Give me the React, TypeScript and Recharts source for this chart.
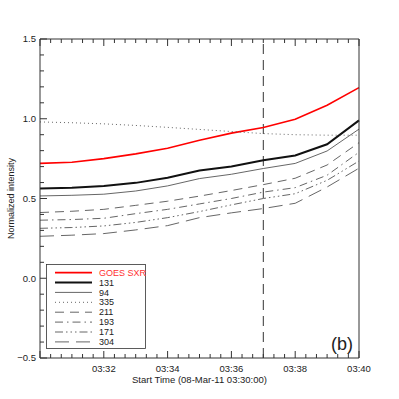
import { LineChart, Line, XAxis, YAxis } from 'recharts';

// minutes after 03:30:00 on 08-Mar-11
const minutes = [0, 1, 2, 3, 4, 5, 6, 7, 8, 9, 10];

const goesSxr = [0.72, 0.727, 0.75, 0.78, 0.815, 0.865, 0.91, 0.945, 0.997, 1.085, 1.195];
const aia131 = [0.562, 0.567, 0.578, 0.598, 0.63, 0.675, 0.7, 0.74, 0.77, 0.84, 0.99];
const aia94 = [0.516, 0.52, 0.527, 0.547, 0.579, 0.625, 0.652, 0.688, 0.72, 0.798, 0.935];
const aia335 = [0.98, 0.975, 0.968, 0.958, 0.946, 0.933, 0.92, 0.907, 0.9, 0.897, 0.897];
const aia211 = [0.412, 0.42, 0.432, 0.457, 0.483, 0.515, 0.55, 0.587, 0.627, 0.71, 0.85];
const aia193 = [0.364, 0.368, 0.376, 0.405, 0.432, 0.466, 0.5, 0.54, 0.568, 0.646, 0.79];
const aia171 = [0.313, 0.318, 0.328, 0.35, 0.38, 0.418, 0.46, 0.5, 0.53, 0.614, 0.735];
const aia304 = [0.263, 0.27, 0.28, 0.303, 0.33, 0.38, 0.41, 0.437, 0.47, 0.572, 0.69];

const xMajorTicks = [0, 2, 4, 6, 8, 10];
const xTickLabels = ['', '03:32', '03:34', '03:36', '03:38', '03:40'];
const leftTicks = [-0.5, -0.4, -0.3, -0.2, -0.1, 0, 0.1, 0.2, 0.3, 0.4, 0.5, 0.6, 0.7, 0.8, 0.9, 1.0, 1.1, 1.2, 1.3, 1.4, 1.5];
const rightTicks = [3e-7, 4e-7, 5e-7, 6e-7, 7e-7, 8e-7, 9e-7, 1e-6, 2e-6, 3e-6, 4e-6, 5e-6];

// vertical marker at 03:37 spanning the full left-axis range
const flareMarker = [
  { t: 7, v: -0.5 },
  { t: 7, v: 1.5 },
];

const AXIS = '#333';
const TXT = '#222';
const FONT = '"Liberation Sans", Arial, sans-serif';

const SERIES = [
  { key: 'goes', name: 'GOES SXR', values: goesSxr, color: '#ff0000', width: 1.6, dash: undefined as string | undefined },
  { key: 'a131', name: '131', values: aia131, color: '#111', width: 2, dash: undefined },
  { key: 'a94', name: '94', values: aia94, color: '#555', width: 0.9, dash: undefined },
  { key: 'a335', name: '335', values: aia335, color: '#555', width: 0.9, dash: '1 3' },
  { key: 'a211', name: '211', values: aia211, color: '#555', width: 0.9, dash: '9 6' },
  { key: 'a193', name: '193', values: aia193, color: '#555', width: 0.9, dash: '8 4 1.5 4' },
  { key: 'a171', name: '171', values: aia171, color: '#555', width: 0.9, dash: '8 3 1.5 3 1.5 3 1.5 3' },
  { key: 'a304', name: '304', values: aia304, color: '#555', width: 0.9, dash: '14 7' },
];

const data = minutes.map((m, i) => {
  const row: any = { t: m };
  SERIES.forEach((s) => (row[s.key] = s.values[i]));
  return row;
});

// 20 s minor ticks on the time axis
const xTicks = Array.from({ length: 31 }, (_, i) => i / 3);

const isMajorX = (v: number) => xMajorTicks.some((m) => Math.abs(m - v) < 1e-6);

const BottomTick = (props: any) => {
  const { x, y, payload } = props;
  const v = payload.value;
  const major = isMajorX(v);
  const idx = xMajorTicks.findIndex((m) => Math.abs(m - v) < 1e-6);
  return (
    <g>
      <line x1={x} x2={x} y1={y} y2={y - (major ? 7 : 4)} stroke={AXIS} strokeWidth={1} />
      {major && idx >= 0 && xTickLabels[idx] && (
        <text x={x} y={y + 13.5} textAnchor="middle" fontSize={9.5} fill={TXT} fontFamily={FONT}>
          {xTickLabels[idx]}
        </text>
      )}
    </g>
  );
};

const TopTick = (props: any) => {
  const { x, y, payload } = props;
  const major = isMajorX(payload.value);
  return (
    <g>
      <line x1={x} x2={x} y1={y} y2={y + (major ? 7 : 4)} stroke={AXIS} strokeWidth={1} />
    </g>
  );
};

const LeftTick = (props: any) => {
  const { x, y, payload } = props;
  const v = payload.value;
  const major = Math.abs(v * 2 - Math.round(v * 2)) < 1e-6;
  return (
    <g>
      <line x1={x} x2={x + (major ? 7 : 4)} y1={y} y2={y} stroke={AXIS} strokeWidth={1} />
      {major && (
        <text x={x - 4} y={y} dy="0.35em" textAnchor="end" fontSize={9.5} fill={TXT} fontFamily={FONT}>
          {v.toFixed(1).replace('-', '\u2212')}
        </text>
      )}
    </g>
  );
};

const RightTick = (props: any) => {
  const { x, y, payload } = props;
  const major = Math.abs(payload.value - 1e-6) < 1e-12;
  return (
    <g>
      <line x1={x} x2={x - (major ? 7 : 3.5)} y1={y} y2={y} stroke={AXIS} strokeWidth={1} />
      {major && (
        <text x={x + 4} y={y + 3} fontSize={8} fill={TXT} fontFamily={FONT}>
          10
          <tspan dy={-4} fontSize={5.5}>{'\u22126'}</tspan>
        </text>
      )}
    </g>
  );
};

const LegendBox = () => (
  <svg width={100} height={85} style={{ position: 'absolute', left: 46, top: 264 }}>
    <rect x={0.5} y={0.5} width={99} height={84} fill="#fff" stroke={AXIS} strokeWidth={0.8} />
    {SERIES.map((s, i) => {
      const cy = 8.6 + i * 9.9;
      return (
        <g key={s.key}>
          <line x1={9} x2={46} y1={cy} y2={cy} stroke={s.color} strokeWidth={s.width} strokeDasharray={s.dash} />
          <text x={53} y={cy} dy="0.35em" fontSize={9} fill={s.key === 'goes' ? '#ff3030' : TXT} fontFamily={FONT}>
            {s.name}
          </text>
        </g>
      );
    })}
  </svg>
);

const Titles = () => (
  <svg width={399} height={399} style={{ position: 'absolute', left: 0, top: 0, pointerEvents: 'none' }}>
    <text x={199.5} y={383} textAnchor="middle" fontSize={9.5} fill={TXT} fontFamily={FONT}>
      Start Time (08-Mar-11 03:30:00)
    </text>
    <text
      x={11}
      y={198.5}
      transform="rotate(-90, 11, 198.5)"
      textAnchor="middle"
      dominantBaseline="central"
      fontSize={9}
      fill={TXT}
      fontFamily={FONT}
    >
      Normalized intensity
    </text>
    <text x={331} y={350} fontSize={18} fill={TXT} fontFamily={FONT}>
      (b)
    </text>
  </svg>
);

export default function App() {
  return (
    <>
      <LineChart
        width={399}
        height={399}
        data={data}
        margin={{ top: 38, right: 0, bottom: 0, left: 0 }}
        style={{ position: 'absolute', left: 0, top: 0 }}
      >
        <XAxis
          dataKey="t"
          type="number"
          domain={[0, 10]}
          ticks={xTicks}
          interval={0}
          tick={BottomTick}
          tickSize={0}
          tickMargin={0}
          tickLine={false}
          axisLine={{ stroke: AXIS, strokeWidth: 1 }}
          height={41}
        />
        <XAxis
          xAxisId="top"
          orientation="top"
          type="number"
          domain={[0, 10]}
          ticks={xTicks}
          interval={0}
          tick={TopTick}
          tickSize={0}
          tickMargin={0}
          tickLine={false}
          axisLine={{ stroke: AXIS, strokeWidth: 1 }}
          height={1}
        />
        <YAxis
          type="number"
          domain={[-0.5, 1.5]}
          ticks={leftTicks}
          interval={0}
          tick={LeftTick}
          tickSize={0}
          tickMargin={0}
          tickLine={false}
          axisLine={{ stroke: AXIS, strokeWidth: 1 }}
          width={40}
        />
        <YAxis
          yAxisId="right"
          orientation="right"
          type="number"
          scale="log"
          domain={[3e-7, 5e-6]}
          ticks={rightTicks}
          interval={0}
          tick={RightTick}
          tickSize={0}
          tickMargin={0}
          tickLine={false}
          axisLine={{ stroke: AXIS, strokeWidth: 1 }}
          width={40}
        />
        <Line
          data={flareMarker}
          dataKey="v"
          type="linear"
          stroke="#333"
          strokeWidth={1}
          strokeDasharray="10 6"
          dot={false}
          activeDot={false}
          isAnimationActive={false}
        />
        {SERIES.map((s) => (
          <Line
            key={s.key}
            dataKey={s.key}
            name={s.name}
            type="linear"
            stroke={s.color}
            strokeWidth={s.width}
            strokeDasharray={s.dash}
            dot={false}
            activeDot={false}
            isAnimationActive={false}
          />
        ))}
      </LineChart>
      <LegendBox />
      <Titles />
    </>
  );
}
